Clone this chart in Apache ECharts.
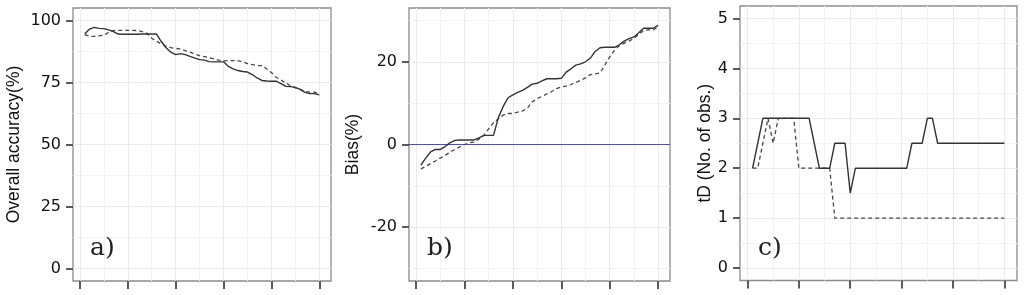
<!DOCTYPE html>
<html>
<head>
<meta charset="utf-8">
<script src="https://cdn.jsdelivr.net/npm/echarts@6/dist/echarts.min.js"></script>
<style>
html,body{margin:0;padding:0;background:#fff;}
#chart{width:1024px;height:295px;}
</style>
</head>
<body>
<div id="chart"></div>
<script>
// ---------- data ----------
const xs = [0.1,0.2,0.3,0.4,0.5,0.6,0.7,0.8,0.9,1.0,
            1.1,1.2,1.3,1.4,1.5,1.6,1.7,1.8,1.9,2.0,
            2.1,2.2,2.3,2.4,2.5,2.6,2.7,2.8,2.9,3.0,
            3.1,3.2,3.3,3.4,3.5,3.6,3.7,3.8,3.9,4.0,
            4.1,4.2,4.3,4.4,4.5,4.6,4.7,4.8,4.9,5.0];

const accSolid = [94.5,96.5,97.2,96.8,96.7,96.2,95.5,94.5,94.4,94.4,
                  94.4,94.4,94.5,94.5,94.5,94.5,91.5,89.0,87.2,86.2,
                  86.6,86.2,85.5,84.8,84.2,84.0,83.4,83.3,83.3,83.3,
                  81.5,80.5,79.8,79.4,79.2,78.2,76.8,75.8,75.6,75.5,
                  75.5,74.5,73.4,73.3,73.0,72.2,71.0,70.5,70.5,70.0];
const accDashed = [94.3,93.6,93.6,93.8,94.0,95.2,95.9,96.0,96.0,96.0,
                   96.0,95.9,95.5,94.8,92.8,91.6,90.5,89.6,89.0,88.7,
                   88.5,87.8,87.2,86.4,85.8,85.4,85.0,84.5,84.0,83.7,
                   83.8,83.8,83.8,83.3,82.6,82.2,81.8,81.8,80.5,79.0,
                   77.1,76.0,74.8,73.6,72.8,72.2,71.4,71.1,71.1,70.4];

const biasSolid = [-5.0,-3.3,-1.8,-1.2,-1.2,-0.5,0.4,1.0,1.1,1.1,
                   1.1,1.1,1.6,2.2,2.2,2.2,6.5,9.2,11.3,12.0,
                   12.6,13.1,13.8,14.6,14.8,15.4,15.9,15.9,15.9,16.0,
                   17.5,18.3,19.2,19.5,20.0,20.9,22.5,23.4,23.5,23.5,
                   23.5,24.1,25.0,25.6,26.0,27.0,28.1,28.1,28.1,28.8];
const biasDashed = [-5.9,-5.3,-4.6,-4.0,-3.3,-2.6,-1.9,-1.2,-0.6,0.0,
                    0.4,0.6,1.3,2.2,3.8,5.3,6.2,7.1,7.5,7.5,
                    7.8,8.1,8.8,10.3,11.1,11.6,12.2,12.8,13.5,13.9,
                    14.1,14.5,15.0,15.5,16.1,16.9,17.1,17.3,19.2,21.2,
                    22.8,23.9,24.5,25.0,25.7,26.6,27.6,27.7,27.7,28.5];

const tdSolid = [2,2.5,3,3,3,3,3,3,3,3,
                 3,3,2.5,2,2,2,2.5,2.5,2.5,1.5,
                 2,2,2,2,2,2,2,2,2,2,
                 2,2.5,2.5,2.5,3,3,2.5,2.5,2.5,2.5,
                 2.5,2.5,2.5,2.5,2.5,2.5,2.5,2.5,2.5,2.5];
const tdDashed = [2,2,2.5,3,2.5,3,3,3,3,2,
                  2,2,2,2,2,2,1,1,1,1,
                  1,1,1,1,1,1,1,1,1,1,
                  1,1,1,1,1,1,1,1,1,1,
                  1,1,1,1,1,1,1,1,1,1];

const xTicks = [0,1,2,3,4,5];
const xMinor = [0.5,1.5,2.5,3.5,4.5];
const accTicks = [0,25,50,75,100];
const accMinor = [12.5,37.5,62.5,87.5];
const biasTicks = [-20,0,20];
const biasMinor = [-30,-10,10,30];
const tdTicks = [0,1,2,3,4,5];
const tdMinor = [0.5,1.5,2.5,3.5,4.5];

const titles = ['Overall accuracy(%)','Bias(%)','tD (No. of obs.)'];
const panelLabels = ['a)','b)','c)'];

// ---------- styling ----------
const TICK = '#333333';
const MAJOR = '#ebebeb';
const MINOR = '#f3f3f3';
const SANS = 'Liberation Sans';

const grids = [
  {left:73, top:8, width:258, height:273},
  {left:409, top:8, width:261, height:273},
  {left:740, top:6, width:277, height:274.5}
].map(g => Object.assign({show:true, borderColor:'#8c8c8c', borderWidth:1.3, backgroundColor:'#fff', containLabel:false}, g));

const yRanges = [[-5,105],[-33,33],[-0.25,5.25]];
const yMajor = [accTicks, biasTicks, tdTicks];
const yMinorV = [accMinor, biasMinor, tdMinor];
const nameGaps = [50, 47, 26];

const xAxes = [], yAxes = [];
for (let i = 0; i < 3; i++) {
  xAxes.push({
    type:'value', gridIndex:i, min:-0.145, max:5.245, position:'bottom',
    axisLine:{show:false, onZero:false},
    axisTick:{show:true, length:8, customValues:xTicks, lineStyle:{color:TICK, width:1.6}},
    axisLabel:{show:false},
    splitLine:{show:true, lineStyle:{color:MAJOR, width:1.1}}
  });
  xAxes.push({
    type:'value', gridIndex:i, min:-0.145, max:5.245, position:'bottom',
    axisLine:{show:false, onZero:false},
    axisTick:{show:false, customValues:xMinor},
    axisLabel:{show:false},
    splitLine:{show:true, lineStyle:{color:MINOR, width:1}}
  });
  yAxes.push({
    type:'value', gridIndex:i, min:yRanges[i][0], max:yRanges[i][1], position:'left',
    name:titles[i], nameLocation:'middle', nameRotate:90, nameGap:nameGaps[i],
    nameTextStyle:{fontFamily:SANS, fontSize:17.5, color:'#111'},
    axisLine:{show:false, onZero:false},
    axisTick:{show:true, length:7, customValues:yMajor[i], lineStyle:{color:TICK, width:1.6}},
    axisLabel:{show:true, customValues:yMajor[i], margin:12, fontFamily:'DejaVu Sans', fontSize:16, color:'#111'},
    splitLine:{show:true, lineStyle:{color:MAJOR, width:1.1}}
  });
  yAxes.push({
    type:'value', gridIndex:i, min:yRanges[i][0], max:yRanges[i][1], position:'left',
    axisLine:{show:false, onZero:false},
    axisTick:{show:false, customValues:yMinorV[i]},
    axisLabel:{show:false},
    splitLine:{show:true, lineStyle:{color:MINOR, width:1}}
  });
}

const pairs = vals => xs.map((x, k) => [x, vals[k]]);
const lineSeries = (i, vals, dashed) => ({
  type:'line', xAxisIndex:2*i, yAxisIndex:2*i, data:pairs(vals),
  symbol:'none', silent:true, z:5,
  lineStyle:{color: dashed ? '#474747' : '#333333', width: dashed ? 1.3 : 1.4, type: dashed ? [4,3] : 'solid'}
});

const series = [
  lineSeries(0, accDashed, true),
  lineSeries(0, accSolid, false),
  lineSeries(1, biasDashed, true),
  Object.assign(lineSeries(1, biasSolid, false), {
    markLine:{silent:true, symbol:'none', label:{show:false}, animation:false,
      lineStyle:{color:'#4646f0', width:1.2, type:'solid'}, data:[{yAxis:0}]}
  }),
  lineSeries(2, tdDashed, true),
  lineSeries(2, tdSolid, false)
];

const labelPos = [[85,231],[422,231],[753,231]];
const titleComps = panelLabels.map((t, i) => ({
  text:t, left:labelPos[i][0], top:labelPos[i][1],
  textStyle:{fontFamily:'DejaVu Serif', fontWeight:'normal', fontSize:25, color:'#222'}
}));

const chart = echarts.init(document.getElementById('chart'), null, {renderer:'canvas'});
chart.setOption({
  animation:false,
  backgroundColor:'#fff',
  title:titleComps,
  grid:grids,
  xAxis:xAxes,
  yAxis:yAxes,
  series:series
});
</script>
</body>
</html>
